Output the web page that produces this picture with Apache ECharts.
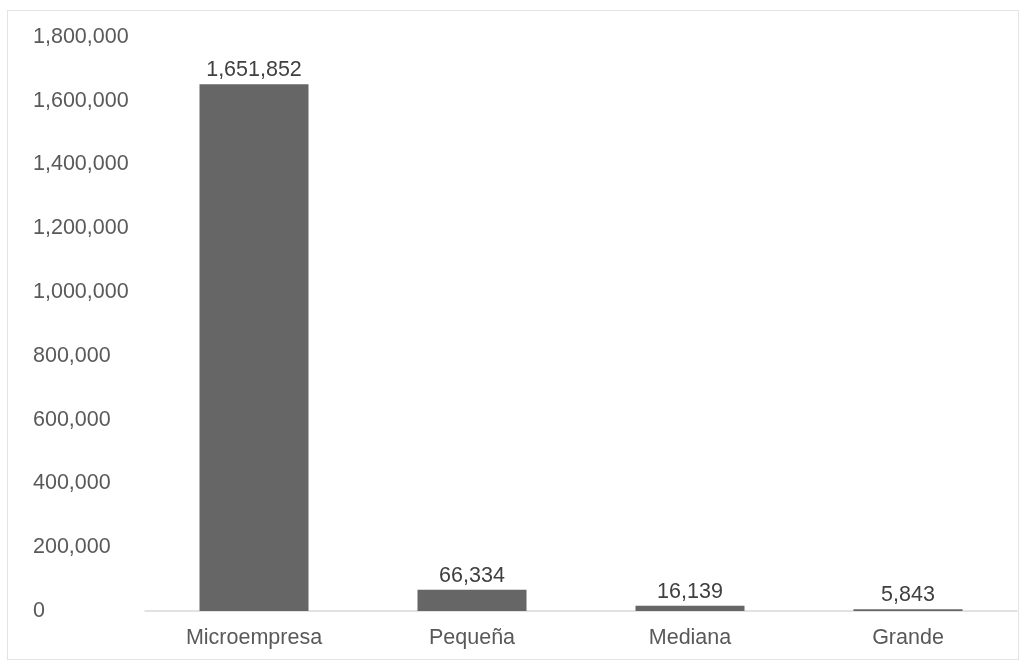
<!DOCTYPE html>
<html>
<head>
<meta charset="utf-8">
<script src="https://cdn.jsdelivr.net/npm/echarts@6/dist/echarts.min.js"></script>
<style>
  html, body { margin: 0; padding: 0; background: #fff; }
  #frame {
    position: absolute; left: 7px; top: 10px;
    width: 1012px; height: 650px;
    border: 1px solid #e3e3e3; box-sizing: border-box;
  }
  #main { position: absolute; left: 0; top: 0; width: 1028px; height: 668px; }
</style>
</head>
<body>
<div id="frame"></div>
<div id="main"></div>
<script>
// empresas por tamaño
const categories = ['Microempresa', 'Pequeña', 'Mediana', 'Grande'];
const values = [1651852, 66334, 16139, 5843];

const fmt = v => v.toLocaleString('en-US');
const font = 'Liberation Sans';

const chart = echarts.init(document.getElementById('main'));
chart.setOption({
  animation: false,
  grid: { left: 145, right: 11, top: 37, bottom: 57 },
  xAxis: {
    type: 'category',
    data: categories,
    axisLine: { lineStyle: { color: '#d9d9d9', width: 1.5 } },
    axisTick: { show: false },
    axisLabel: {
      color: '#595959', fontFamily: font, fontSize: 21.5, margin: 16
    }
  },
  yAxis: {
    type: 'value',
    min: 0, max: 1800000, interval: 200000,
    splitLine: { show: false },
    axisLine: { show: false },
    axisTick: { show: false },
    axisLabel: {
      color: '#595959', fontFamily: font, fontSize: 21.5,
      align: 'left', margin: 112,
      formatter: fmt
    }
  },
  series: [{
    type: 'bar',
    data: values,
    barWidth: '50%',
    itemStyle: { color: '#666667' },
    label: {
      show: true, position: 'top', distance: 3,
      color: '#404040', fontFamily: font, fontSize: 21.5,
      formatter: p => fmt(p.value)
    }
  }]
});
</script>
</body>
</html>
